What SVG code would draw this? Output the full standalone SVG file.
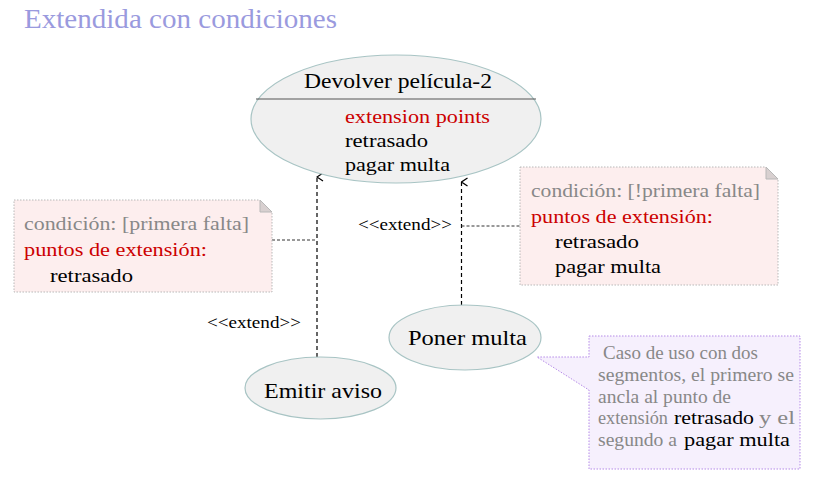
<svg xmlns="http://www.w3.org/2000/svg" width="818" height="497" viewBox="0 0 818 497">
<defs>
<style>
text{font-family:"Liberation Serif","Times New Roman",serif;}
.uc{fill:#f0f0f0;stroke:#a8c4c4;stroke-width:1.2;}
.note{fill:#fdeeee;stroke:#b8b8b8;stroke-width:1;stroke-dasharray:1.5 1.5;}
.fold{fill:#d8d0d0;stroke:#b8b8b8;stroke-width:1;}
.conn{fill:none;stroke:#000;stroke-width:1.2;stroke-dasharray:4 3;}
.anchor{fill:none;stroke:#333;stroke-width:1;stroke-dasharray:3 2;}
.gray{fill:#888;font-size:19.5px;}
.red{fill:#cc0000;font-size:19.5px;}
.blk{fill:#000;font-size:19.5px;}
.lbl{fill:#000;font-size:16px;}
.cg{fill:#888;font-size:18px;}
.cb{fill:#000;font-size:19.5px;}
</style>
<marker id="open" markerWidth="10" markerHeight="10" refX="5" refY="1" orient="auto-start-reverse" markerUnits="userSpaceOnUse" viewBox="0 0 10 10">
<path d="M1,7 L5,1 L9,7" fill="none" stroke="#000" stroke-width="1.2"/>
</marker>
</defs>
<rect width="818" height="497" fill="#fff"/>
<text x="24" y="28" textLength="313" lengthAdjust="spacingAndGlyphs" style="font-size:27px;fill:#9a9ade;">Extendida con condiciones</text>

<g id="connectors">
<line class="conn" x1="317" y1="357" x2="317" y2="177" marker-end="url(#open)"/>
<line class="conn" x1="461.5" y1="305" x2="461.5" y2="182" marker-end="url(#open)"/>
<line class="anchor" x1="272" y1="240" x2="317" y2="240"/>
<line class="anchor" x1="461.5" y1="226" x2="520" y2="226"/>
<text class="lbl" x="207" y="328" textLength="94" lengthAdjust="spacingAndGlyphs">&lt;&lt;extend&gt;&gt;</text>
<text class="lbl" x="358" y="230" textLength="94" lengthAdjust="spacingAndGlyphs">&lt;&lt;extend&gt;&gt;</text>
</g>

<g id="devolver">
<ellipse class="uc" cx="396" cy="119" rx="145" ry="64"/>
<line x1="256" y1="99" x2="536" y2="99" stroke="#555" stroke-width="1.2"/>
<text x="304" y="88" textLength="188" lengthAdjust="spacingAndGlyphs" style="font-size:21px;fill:#000;">Devolver película-2</text>
<text class="red" x="345" y="123" textLength="145" lengthAdjust="spacingAndGlyphs">extension points</text>
<text class="blk" x="345" y="147" textLength="83" lengthAdjust="spacingAndGlyphs">retrasado</text>
<text class="blk" x="345" y="171" textLength="105" lengthAdjust="spacingAndGlyphs">pagar multa</text>
</g>

<g id="note-left">
<path class="note" d="M14,200 H260 L272,212 V292 H14 Z"/>
<path class="fold" d="M260,200 L272,212 H260 Z"/>
<text class="gray" x="24" y="230" textLength="225" lengthAdjust="spacingAndGlyphs">condición: [primera falta]</text>
<text class="red" x="24" y="256" textLength="183" lengthAdjust="spacingAndGlyphs">puntos de extensión:</text>
<text class="blk" x="50" y="282" textLength="83" lengthAdjust="spacingAndGlyphs">retrasado</text>
</g>

<g id="note-right">
<path class="note" d="M520,167 H766 L778,179 V285 H520 Z"/>
<path class="fold" d="M766,167 L778,179 H766 Z"/>
<text class="gray" x="531" y="197" textLength="229" lengthAdjust="spacingAndGlyphs">condición: [!primera falta]</text>
<text class="red" x="531" y="223" textLength="182" lengthAdjust="spacingAndGlyphs">puntos de extensión:</text>
<text class="blk" x="555" y="248" textLength="84" lengthAdjust="spacingAndGlyphs">retrasado</text>
<text class="blk" x="555" y="273" textLength="106" lengthAdjust="spacingAndGlyphs">pagar multa</text>
</g>

<g id="poner-multa">
<ellipse class="uc" cx="465" cy="337.5" rx="76" ry="32.5"/>
<text x="408" y="345" textLength="119" lengthAdjust="spacingAndGlyphs" style="font-size:22px;fill:#000;">Poner multa</text>
</g>

<g id="emitir-aviso">
<ellipse class="uc" cx="320.5" cy="388" rx="75.5" ry="31"/>
<text x="264" y="398" textLength="118" lengthAdjust="spacingAndGlyphs" style="font-size:22px;fill:#000;">Emitir aviso</text>
</g>

<g id="callout">
<path d="M589,336 H800 V469 H589 V390 L537,357 H589 Z" fill="#f6f0fd" stroke="#b58ae8" stroke-width="1" stroke-dasharray="1.5 1.5"/>
<text class="cg" x="603" y="359" textLength="155" lengthAdjust="spacingAndGlyphs">Caso de uso con dos</text>
<text class="cg" x="598" y="381" textLength="196" lengthAdjust="spacingAndGlyphs">segmentos, el primero se</text>
<text class="cg" x="598" y="403" textLength="133" lengthAdjust="spacingAndGlyphs">ancla al punto de</text>
<text class="cg" x="598" y="424" textLength="70" lengthAdjust="spacingAndGlyphs">extensión</text>
<text class="cb" x="674" y="424" textLength="80" lengthAdjust="spacingAndGlyphs">retrasado</text>
<text class="cg" x="759" y="424" textLength="36" lengthAdjust="spacingAndGlyphs">y el</text>
<text class="cg" x="598" y="446" textLength="79" lengthAdjust="spacingAndGlyphs">segundo a</text>
<text class="cb" x="684" y="446" textLength="106" lengthAdjust="spacingAndGlyphs">pagar multa</text>
</g>
</svg>
